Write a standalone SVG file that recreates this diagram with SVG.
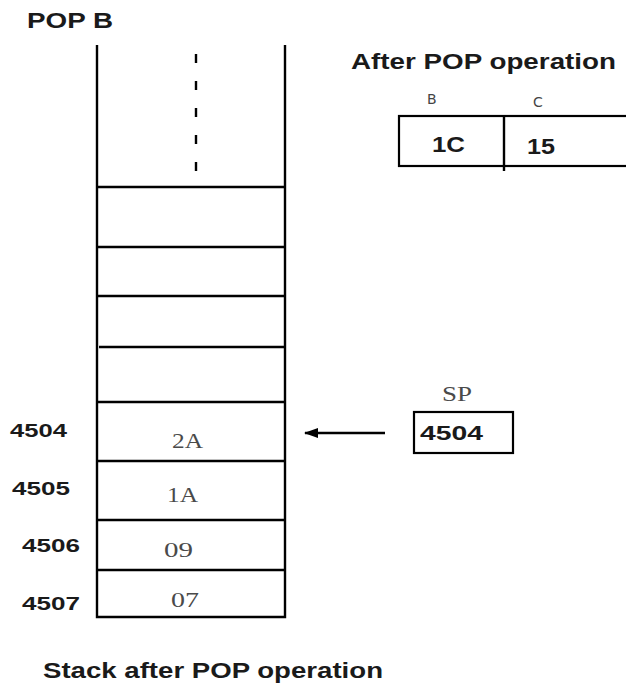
<svg xmlns="http://www.w3.org/2000/svg" width="626" height="683" viewBox="0 0 626 683">
<defs>
<style>
.ln{stroke:#000;stroke-width:2.4;fill:none}
.bx{stroke:#000;stroke-width:2.2;fill:#fff}
.t{font-family:"Liberation Sans",Arial,sans-serif;font-weight:bold;fill:#1a1a1a}
.v{font-family:"Liberation Serif","Times New Roman",serif;fill:#4a4a4a;font-size:21px}
.s{font-family:"DejaVu Sans",sans-serif;fill:#444;font-size:14px}
</style>
<marker id="ah" viewBox="0 0 14 10" refX="13" refY="5" markerWidth="6" markerHeight="4.3" orient="auto" markerUnits="strokeWidth"><path d="M14 5 L0 0 L0 10 Z" fill="#000"/></marker>
</defs>
<rect width="626" height="683" fill="#fff"/>
<text class="t" x="27" y="28" font-size="22" textLength="86" lengthAdjust="spacingAndGlyphs">POP B</text>
<g id="stack">
<path class="ln" d="M97 45 V617 H285 V45"/>
<path class="ln" d="M196 54 V178" stroke-width="3.2" stroke-dasharray="9 18"/>
<path class="ln" d="M97 187 H285 M97 247 H285 M97 296 H285 M99 347 H285 M97 402 H285 M97 461 H285 M97 520 H285 M97 570 H285"/>
</g>
<g id="cells">
<text class="v" x="172" y="448" textLength="31" lengthAdjust="spacingAndGlyphs">2A</text>
<text class="v" x="167" y="502" textLength="31" lengthAdjust="spacingAndGlyphs">1A</text>
<text class="v" x="164" y="557" textLength="29" lengthAdjust="spacingAndGlyphs">09</text>
<text class="v" x="171" y="607" textLength="28" lengthAdjust="spacingAndGlyphs">07</text>
</g>
<g id="addresses" class="t" font-size="19">
<text x="10" y="437" textLength="57" lengthAdjust="spacingAndGlyphs">4504</text>
<text x="12" y="495" textLength="58" lengthAdjust="spacingAndGlyphs">4505</text>
<text x="22" y="552" textLength="58" lengthAdjust="spacingAndGlyphs">4506</text>
<text x="22" y="610" textLength="58" lengthAdjust="spacingAndGlyphs">4507</text>
</g>
<g id="registers">
<text class="t" x="351" y="69" font-size="22" textLength="265" lengthAdjust="spacingAndGlyphs">After POP operation</text>
<text class="s" x="427" y="104">B</text>
<text class="s" x="533" y="107">C</text>
<rect class="bx" x="399" y="116" width="230" height="50"/>
<path class="ln" d="M504 116 V171"/>
<text class="t" x="432" y="152" font-size="22" textLength="33" lengthAdjust="spacingAndGlyphs">1C</text>
<text class="t" x="527" y="154" font-size="22" textLength="28" lengthAdjust="spacingAndGlyphs">15</text>
</g>
<g id="sp">
<text class="v" x="442" y="401" textLength="30" lengthAdjust="spacingAndGlyphs">SP</text>
<rect class="bx" x="414" y="412" width="99" height="41"/>
<text class="t" x="420" y="440" font-size="21" textLength="63" lengthAdjust="spacingAndGlyphs">4504</text>
</g>
<g id="connectors">
<path class="ln" d="M385 433 H305" marker-end="url(#ah)"/>
</g>
<text class="t" x="43" y="678" font-size="22" textLength="340" lengthAdjust="spacingAndGlyphs">Stack after POP operation</text>
</svg>
